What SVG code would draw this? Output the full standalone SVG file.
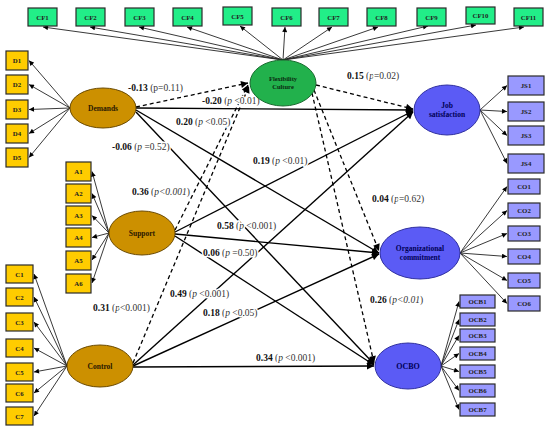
<svg xmlns="http://www.w3.org/2000/svg" width="550" height="430" viewBox="0 0 550 430">
<style>
.box{stroke:#2a2a2a;stroke-width:1.2}
.cf{fill:#22EE88}
.yb{fill:#FFCC00}
.pb{fill:#9999FF}
.bt{font-family:"Liberation Serif",serif;font-size:6.8px;font-weight:bold;fill:#222;text-anchor:middle}
.gold{fill:#CC9000;stroke:#6b4a00;stroke-width:1}
.green{fill:#22B14C;stroke:#1a6b30;stroke-width:1}
.blue{fill:#5B5BF5;stroke:#3030a0;stroke-width:1}
.nt{font-family:"Liberation Serif",serif;font-size:7.5px;font-weight:bold;text-anchor:middle}
.ind{stroke:#222;stroke-width:0.9;fill:none;marker-end:url(#ah)}
.sol{stroke:#000;stroke-width:1.4;fill:none;marker-end:url(#ab)}
.das{stroke:#000;stroke-width:1.3;fill:none;stroke-dasharray:4,3;marker-end:url(#ab)}
.lb{font-family:"Liberation Serif",serif;font-size:9.5px;fill:#333;stroke:#fff;stroke-width:3;paint-order:stroke;stroke-linejoin:round}
.lb .c{font-weight:bold;fill:#111}
.lb .i{font-style:italic}
</style>
<defs>
<marker id="ah" viewBox="0 0 10 10" refX="10" refY="5" markerWidth="6" markerHeight="5" markerUnits="userSpaceOnUse" orient="auto"><path d="M0,0 L10,5 L0,10 z" fill="#000"/></marker>
<marker id="ab" viewBox="0 0 10 10" refX="10" refY="5" markerWidth="8" markerHeight="7" markerUnits="userSpaceOnUse" orient="auto"><path d="M0,0 L10,5 L0,10 z" fill="#000"/></marker>
</defs>

<g id="connectors">
<path class="ind" d="M283,60 L43,27"/>
<path class="ind" d="M283,60 L90,27"/>
<path class="ind" d="M283,60 L139,27"/>
<path class="ind" d="M283,60 L187,27"/>
<path class="ind" d="M283,60 L240,26"/>
<path class="ind" d="M283,60 L285,27"/>
<path class="ind" d="M283,60 L332,27"/>
<path class="ind" d="M283,60 L378,27"/>
<path class="ind" d="M283,60 L428,26"/>
<path class="ind" d="M283,60 L476,25"/>
<path class="ind" d="M283,60 L524,27"/>
<path class="ind" d="M70,108 L29,60.5"/>
<path class="ind" d="M70,108 L29,84.5"/>
<path class="ind" d="M70,108 L29,109.5"/>
<path class="ind" d="M70,108 L29,133.5"/>
<path class="ind" d="M70,108 L29,157.5"/>
<path class="ind" d="M109,233 L92,171.5"/>
<path class="ind" d="M109,233 L92,193.5"/>
<path class="ind" d="M109,233 L92,215.5"/>
<path class="ind" d="M109,233 L92,237.5"/>
<path class="ind" d="M109,233 L92,260"/>
<path class="ind" d="M109,233 L92,283"/>
<path class="ind" d="M67,366 L34,274"/>
<path class="ind" d="M67,366 L34,297"/>
<path class="ind" d="M67,366 L34,322"/>
<path class="ind" d="M67,366 L34,348"/>
<path class="ind" d="M67,366 L34,372"/>
<path class="ind" d="M67,366 L34,393"/>
<path class="ind" d="M67,366 L34,416"/>
<path class="ind" d="M480,110 L507,85.5"/>
<path class="ind" d="M480,110 L507,111.5"/>
<path class="ind" d="M480,110 L507,135.5"/>
<path class="ind" d="M480,110 L507,163.5"/>
<path class="ind" d="M460,253 L507,186.5"/>
<path class="ind" d="M460,253 L507,210.5"/>
<path class="ind" d="M460,253 L507,233.5"/>
<path class="ind" d="M460,253 L507,256.5"/>
<path class="ind" d="M460,253 L507,280.5"/>
<path class="ind" d="M460,253 L507,303.5"/>
<path class="ind" d="M441,366 L459,301.5"/>
<path class="ind" d="M441,366 L459,319.5"/>
<path class="ind" d="M441,366 L459,335.5"/>
<path class="ind" d="M441,366 L459,353.5"/>
<path class="ind" d="M441,366 L459,371.5"/>
<path class="ind" d="M441,366 L459,390.5"/>
<path class="ind" d="M441,366 L459,409.5"/>

<path class="sol" d="M136,108 L413,110"/>
<path class="sol" d="M136,110 L379,253"/>
<path class="sol" d="M136,112 L374,364"/>
<path class="sol" d="M175,232 L413,111"/>
<path class="sol" d="M175,234 L379,253"/>
<path class="sol" d="M175,236 L374,365"/>
<path class="sol" d="M133,365 L413,112"/>
<path class="sol" d="M133,366 L379,254"/>
<path class="sol" d="M133,367 L374,366"/>
<path class="das" d="M136,107 L248,83"/>
<path class="das" d="M175,230 L248,85"/>
<path class="das" d="M133,363 L249,86"/>
<path class="das" d="M316,85 L413,109"/>
<path class="das" d="M314,90 L379,251"/>
<path class="das" d="M312,93 L374,363"/>
</g>

<g id="labels">
<text class="lb" x="128" y="91"><tspan class="c">-0.13</tspan> (p=0.11)</text>
<text class="lb" x="202" y="104"><tspan class="c">-0.20</tspan> (<tspan class="i">p</tspan> &lt;0.01)</text>
<text class="lb" x="176" y="125"><tspan class="c">0.20</tspan> (<tspan class="i">p</tspan> &lt;0.05)</text>
<text class="lb" x="112" y="150"><tspan class="c">-0.06</tspan> (<tspan class="i">p</tspan> =0.52)</text>
<text class="lb" x="132" y="195"><tspan class="c">0.36</tspan> (<tspan class="i">p&lt;0.001</tspan>)</text>
<text class="lb" x="253" y="164"><tspan class="c">0.19</tspan> (<tspan class="i">p</tspan> &lt;0.01)</text>
<text class="lb" x="217" y="229"><tspan class="c">0.58</tspan> (<tspan class="i">p</tspan> &lt;0.001)</text>
<text class="lb" x="203" y="256"><tspan class="c">0.06</tspan> (<tspan class="i">p</tspan> =0.50)</text>
<text class="lb" x="170" y="297"><tspan class="c">0.49</tspan> (<tspan class="i">p</tspan> &lt;0.001)</text>
<text class="lb" x="93" y="311"><tspan class="c">0.31</tspan> (<tspan class="i">p</tspan>&lt;0.001)</text>
<text class="lb" x="203" y="316"><tspan class="c">0.18</tspan> (<tspan class="i">p</tspan> &lt;0.05)</text>
<text class="lb" x="256" y="361"><tspan class="c">0.34</tspan> (<tspan class="i">p</tspan> &lt;0.001)</text>
<text class="lb" x="347" y="79"><tspan class="c">0.15</tspan> (<tspan class="i">p</tspan>=0.02)</text>
<text class="lb" x="372" y="202"><tspan class="c">0.04</tspan> (<tspan class="i">p</tspan>=0.62)</text>
<text class="lb" x="370" y="303"><tspan class="c">0.26</tspan> (<tspan class="i">p&lt;0.01</tspan>)</text>
</g>

<g id="CF1"><rect class="box cf" x="28" y="8" width="29" height="18"/><text class="bt" x="42.5" y="19.5">CF1</text></g>
<g id="CF2"><rect class="box cf" x="76" y="8" width="29" height="18"/><text class="bt" x="90.5" y="19.5">CF2</text></g>
<g id="CF3"><rect class="box cf" x="125" y="8" width="29" height="18"/><text class="bt" x="139.5" y="19.5">CF3</text></g>
<g id="CF4"><rect class="box cf" x="173" y="8" width="29" height="18"/><text class="bt" x="187.5" y="19.5">CF4</text></g>
<g id="CF5"><rect class="box cf" x="223" y="7" width="29" height="18"/><text class="bt" x="237.5" y="18.5">CF5</text></g>
<g id="CF6"><rect class="box cf" x="272" y="8" width="29" height="18"/><text class="bt" x="286.5" y="19.5">CF6</text></g>
<g id="CF7"><rect class="box cf" x="319" y="8" width="29" height="18"/><text class="bt" x="333.5" y="19.5">CF7</text></g>
<g id="CF8"><rect class="box cf" x="367" y="8" width="29" height="18"/><text class="bt" x="381.5" y="19.5">CF8</text></g>
<g id="CF9"><rect class="box cf" x="417" y="8" width="29" height="18"/><text class="bt" x="431.5" y="19.5">CF9</text></g>
<g id="CF10"><rect class="box cf" x="466" y="7" width="29" height="17"/><text class="bt" x="480.5" y="18">CF10</text></g>
<g id="CF11"><rect class="box cf" x="514" y="8" width="29" height="18"/><text class="bt" x="528.5" y="19.5">CF11</text></g>

<g id="D1"><rect class="box yb" x="6" y="51" width="22" height="19"/><text class="bt" x="17" y="63">D1</text></g>
<g id="D2"><rect class="box yb" x="6" y="75" width="22" height="19"/><text class="bt" x="17" y="87">D2</text></g>
<g id="D3"><rect class="box yb" x="6" y="100" width="22" height="19"/><text class="bt" x="17" y="112">D3</text></g>
<g id="D4"><rect class="box yb" x="6" y="124" width="22" height="19"/><text class="bt" x="17" y="136">D4</text></g>
<g id="D5"><rect class="box yb" x="6" y="148" width="22" height="19"/><text class="bt" x="17" y="160">D5</text></g>

<g id="A1"><rect class="box yb" x="66" y="162" width="25" height="19"/><text class="bt" x="78.5" y="174">A1</text></g>
<g id="A2"><rect class="box yb" x="66" y="184" width="25" height="19"/><text class="bt" x="78.5" y="196">A2</text></g>
<g id="A3"><rect class="box yb" x="66" y="206" width="25" height="19"/><text class="bt" x="78.5" y="218">A3</text></g>
<g id="A4"><rect class="box yb" x="66" y="228" width="25" height="19"/><text class="bt" x="78.5" y="240">A4</text></g>
<g id="A5"><rect class="box yb" x="66" y="251" width="25" height="19"/><text class="bt" x="78.5" y="263">A5</text></g>
<g id="A6"><rect class="box yb" x="66" y="274" width="25" height="19"/><text class="bt" x="78.5" y="286">A6</text></g>

<g id="C1"><rect class="box yb" x="6" y="265" width="27" height="18"/><text class="bt" x="19.5" y="276.5">C1</text></g>
<g id="C2"><rect class="box yb" x="6" y="288" width="27" height="18"/><text class="bt" x="19.5" y="299.5">C2</text></g>
<g id="C3"><rect class="box yb" x="6" y="313" width="27" height="18"/><text class="bt" x="19.5" y="324.5">C3</text></g>
<g id="C4"><rect class="box yb" x="6" y="339" width="27" height="18"/><text class="bt" x="19.5" y="350.5">C4</text></g>
<g id="C5"><rect class="box yb" x="6" y="363" width="27" height="18"/><text class="bt" x="19.5" y="374.5">C5</text></g>
<g id="C6"><rect class="box yb" x="6" y="384" width="27" height="18"/><text class="bt" x="19.5" y="395.5">C6</text></g>
<g id="C7"><rect class="box yb" x="6" y="407" width="27" height="18"/><text class="bt" x="19.5" y="418.5">C7</text></g>

<g id="JS1"><rect class="box pb" x="508" y="76" width="36" height="19"/><text class="bt" x="526" y="88">JS1</text></g>
<g id="JS2"><rect class="box pb" x="508" y="102" width="36" height="19"/><text class="bt" x="526" y="114">JS2</text></g>
<g id="JS3"><rect class="box pb" x="508" y="126" width="36" height="19"/><text class="bt" x="526" y="138">JS3</text></g>
<g id="JS4"><rect class="box pb" x="508" y="154" width="36" height="19"/><text class="bt" x="526" y="166">JS4</text></g>

<g id="CO1"><rect class="box pb" x="508" y="179" width="32" height="15"/><text class="bt" x="524" y="189">CO1</text></g>
<g id="CO2"><rect class="box pb" x="508" y="203" width="32" height="15"/><text class="bt" x="524" y="213">CO2</text></g>
<g id="CO3"><rect class="box pb" x="508" y="226" width="32" height="15"/><text class="bt" x="524" y="236">CO3</text></g>
<g id="CO4"><rect class="box pb" x="508" y="249" width="32" height="15"/><text class="bt" x="524" y="259">CO4</text></g>
<g id="CO5"><rect class="box pb" x="508" y="273" width="32" height="15"/><text class="bt" x="524" y="283">CO5</text></g>
<g id="CO6"><rect class="box pb" x="508" y="296" width="32" height="15"/><text class="bt" x="524" y="306">CO6</text></g>

<g id="OCB1"><rect class="box pb" x="460" y="295" width="35" height="13"/><text class="bt" x="477.5" y="304">OCB1</text></g>
<g id="OCB2"><rect class="box pb" x="460" y="313" width="35" height="13"/><text class="bt" x="477.5" y="322">OCB2</text></g>
<g id="OCB3"><rect class="box pb" x="460" y="329" width="35" height="13"/><text class="bt" x="477.5" y="338">OCB3</text></g>
<g id="OCB4"><rect class="box pb" x="460" y="347" width="35" height="13"/><text class="bt" x="477.5" y="356">OCB4</text></g>
<g id="OCB5"><rect class="box pb" x="460" y="365" width="35" height="13"/><text class="bt" x="477.5" y="374">OCB5</text></g>
<g id="OCB6"><rect class="box pb" x="460" y="384" width="35" height="13"/><text class="bt" x="477.5" y="393">OCB6</text></g>
<g id="OCB7"><rect class="box pb" x="460" y="403" width="35" height="13"/><text class="bt" x="477.5" y="412">OCB7</text></g>

<g id="FlexibilityCulture"><ellipse class="green" cx="283" cy="83" rx="33" ry="23"/><text class="nt" x="283" y="81" style="font-size:6.5px" fill="#0a2a10">Flexibility</text><text class="nt" x="283" y="89" style="font-size:6.5px" fill="#0a2a10">Culture</text></g>
<g id="Demands"><ellipse class="gold" cx="103" cy="108" rx="33" ry="20"/><text class="nt" x="103" y="110.5" fill="#2a1800">Demands</text></g>
<g id="Support"><ellipse class="gold" cx="142" cy="233" rx="33" ry="22"/><text class="nt" x="142" y="235.5" fill="#2a1800">Support</text></g>
<g id="Control"><ellipse class="gold" cx="100" cy="366" rx="33" ry="21"/><text class="nt" x="100" y="368.5" fill="#2a1800">Control</text></g>
<g id="JobSatisfaction"><ellipse class="blue" cx="447" cy="110" rx="33" ry="25"/><text class="nt" x="447" y="108" fill="#000055">Job</text><text class="nt" x="447" y="116.5" fill="#000055">satisfaction</text></g>
<g id="OrganizationalCommitment"><ellipse class="blue" cx="420" cy="253" rx="40" ry="26"/><text class="nt" x="420" y="251" fill="#000055">Organizational</text><text class="nt" x="420" y="259.5" fill="#000055">commitment</text></g>
<g id="OCBO"><ellipse class="blue" cx="408" cy="366" rx="33" ry="23"/><text class="nt" x="408" y="369" fill="#000055" style="font-size:8px">OCBO</text></g>
</svg>
